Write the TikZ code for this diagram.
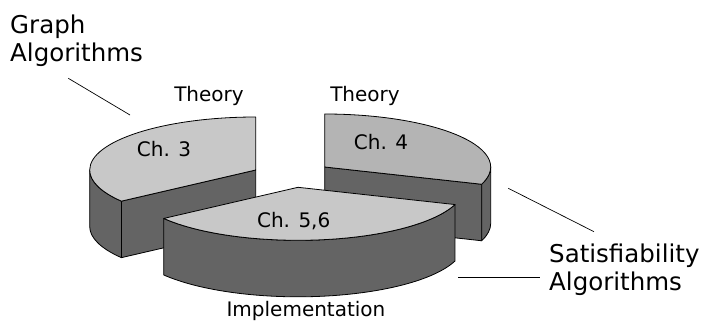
\documentclass[tikz,border=0pt]{standalone}
\usepackage{fontspec}
\setmainfont{DejaVu Sans}
\usetikzlibrary{calc}

\definecolor{pietop}{HTML}{C8C8C8}
\definecolor{pietopback}{HTML}{B4B4B4}
\definecolor{pieside}{HTML}{646464}

\newcommand{\pieh}{56.5}

\tikzset{
  topface/.style={draw=black, line width=0.8pt, fill=pietop, line join=round},
  sideface/.style={draw=black, line width=0.8pt, fill=pieside, line join=round},
  rim/.style={x radius=166pt, y radius=53pt},
  bigtext/.style={font=\fontsize{24.5}{27.5}\selectfont, align=left, inner sep=0pt},
  smalltext/.style={font=\fontsize{20}{24}\selectfont, inner sep=0pt},
  leader/.style={draw=black, line width=0.7pt}
}

\begin{document}
\begin{tikzpicture}[x=1pt, y=1pt]

  \useasboundingbox (0,0) rectangle (702,322);

  % slice centres
  \coordinate (c3) at (255.7,152);
  \coordinate (c4) at (324.7,155);
  \coordinate (c56) at (298,134.7);

  % Ch. 3
  \draw[sideface] (c3) -- ++(216:166pt and 53pt) -- ++(0,-\pieh) -- ($(c3)+(0,-\pieh)$) -- cycle;
  \draw[sideface] ($(c3)+(180:166pt and 53pt)$) arc[rim, start angle=180, end angle=216]
    -- ++(0,-\pieh) arc[rim, start angle=216, end angle=180] -- cycle;
  \draw[topface] (c3) -- ++(90:166pt and 53pt) arc[rim, start angle=90, end angle=216] -- cycle;

  % Ch. 4
  \draw[sideface] (c4) -- ++(-19:166pt and 53pt) -- ++(0,-\pieh) -- ($(c4)+(0,-\pieh)$) -- cycle;
  \draw[sideface] ($(c4)+(-19:166pt and 53pt)$) arc[rim, start angle=-19, end angle=0]
    -- ++(0,-\pieh) arc[rim, start angle=0, end angle=-19] -- cycle;
  \draw[topface, fill=pietopback] (c4) -- ++(-19:166pt and 53pt) arc[rim, start angle=-19, end angle=90] -- cycle;

  % Ch. 5,6
  \draw[sideface] ($(c56)+(216:166pt and 53pt)$) arc[rim, start angle=216, end angle=341]
    -- ++(0,-\pieh) arc[rim, start angle=341, end angle=216] -- cycle;
  \draw[topface] (c56) -- ++(216:166pt and 53pt) arc[rim, start angle=216, end angle=341] -- cycle;

  \node[smalltext, anchor=base] (theory3) at (209,220) {Theory};
  \node[smalltext, anchor=base] (theory4) at (365,220) {Theory};
  \node[smalltext, anchor=base] (ch3) at (164,166) {Ch. 3};
  \node[smalltext, anchor=base] (ch4) at (381,173) {Ch. 4};
  \node[smalltext, anchor=base] (ch56) at (293.7,94.7) {Ch. 5,6};
  \node[smalltext, anchor=base] (impl) at (306,5.3) {Implementation};

  \node[bigtext, anchor=north west] (graphalg) at (10,307) {Graph\\Algorithms};
  \node[bigtext, anchor=north west] (satalg) at (549,78) {Satisfiability\\Algorithms};

  % leader lines
  \coordinate (gl1) at (68.3,243.7);
  \coordinate (gl2) at (130,207);
  \coordinate (sl1) at (508.3,133.7);
  \coordinate (sl2) at (594,90.3);
  \coordinate (il1) at (458.3,44.7);
  \coordinate (il2) at (540,44.7);
  \draw[leader] (gl1) -- (gl2);
  \draw[leader] (sl1) -- (sl2);
  \draw[leader] (il1) -- (il2);

\end{tikzpicture}
\end{document}
